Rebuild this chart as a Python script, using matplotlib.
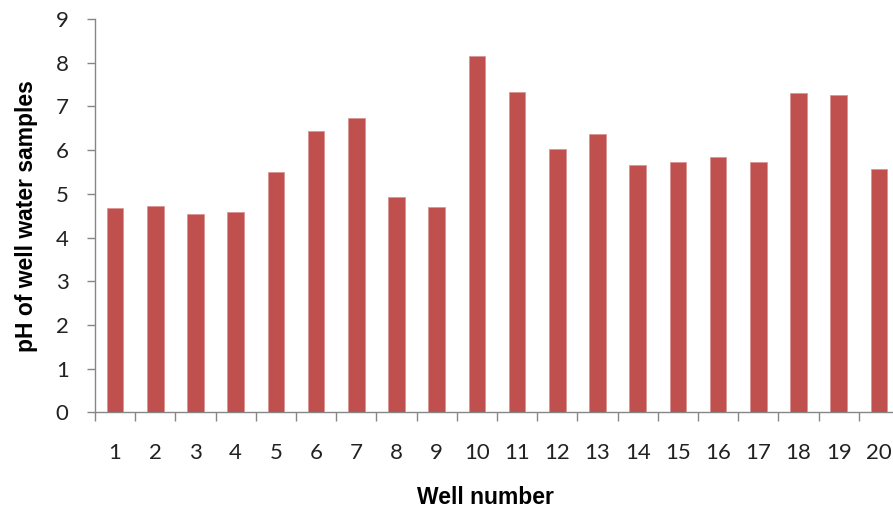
import matplotlib
matplotlib.use("Agg")
import matplotlib.pyplot as plt
from matplotlib.ticker import FixedLocator

wells = list(range(1, 21))
ph_values = [4.67, 4.73, 4.53, 4.58, 5.50, 6.44, 6.73, 4.93, 4.70, 8.15,
             7.33, 6.02, 6.36, 5.67, 5.73, 5.84, 5.73, 7.30, 7.27, 5.56]
y_ticks = list(range(0, 10))

W, H = 893, 511
fig = plt.figure(figsize=(W / 100, H / 100), dpi=100)
left, right = 95, 899
top, bottom = 19, 412.3
ax = fig.add_axes([left / W, (H - bottom) / H, (right - left) / W, (bottom - top) / H])

bar_color = "#C0504D"
ax.bar(wells, ph_values, width=0.41, color=bar_color, edgecolor="#D99694", linewidth=0.6, zorder=3)

ax.set_xlim(0.5, 20.5)
ax.set_ylim(0, 9)

axis_color = "#868686"
for s in ["top", "right"]:
    ax.spines[s].set_visible(False)
for s in ["left", "bottom"]:
    ax.spines[s].set_color(axis_color)
    ax.spines[s].set_linewidth(1.0)

tick_font = "Lato"
ax.set_yticks(y_ticks)
ax.set_yticklabels([str(v) for v in y_ticks], fontsize=16, family=tick_font, color="#222222")
ax.tick_params(axis="y", direction="out", length=6, width=1, color=axis_color, pad=13)

# category boundaries as major ticks, labels on minor ticks at centres
ax.xaxis.set_major_locator(FixedLocator([w - 0.5 for w in wells] + [wells[-1] + 0.5]))
ax.xaxis.set_major_formatter(plt.NullFormatter())
ax.xaxis.set_minor_locator(FixedLocator(wells))
ax.set_xticklabels([str(w) for w in wells], minor=True, fontsize=16, family=tick_font, color="#222222")
ax.tick_params(axis="x", which="major", direction="out", length=6.5, width=1, color=axis_color)
ax.tick_params(axis="x", which="minor", length=0, pad=22)

fig.text(485 / W, 1 - 497 / H, "Well number", ha="center", va="center",
         fontsize=16.5, fontweight="bold", family="Liberation Sans", color="#000000")
fig.text(27 / W, 1 - 216 / H, "pH of well water samples", ha="center", va="center",
         rotation=90, fontsize=16.5, fontweight="bold", family="Liberation Sans", color="#000000")

fig.savefig("out.png", dpi=100)
